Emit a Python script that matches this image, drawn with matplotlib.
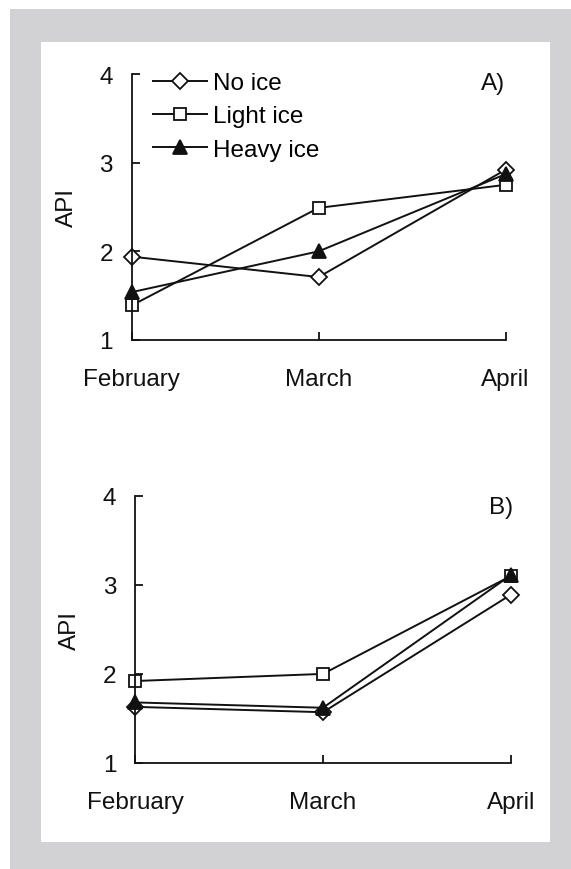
import matplotlib
matplotlib.use('Agg')
import matplotlib.pyplot as plt
from matplotlib.patches import Rectangle

# Donnees (API moyen par mois)
months = ['February', 'March', 'April']
series_names = ['No ice', 'Light ice', 'Heavy ice']

api_a_no_ice = [1.94, 1.71, 2.92]
api_a_light_ice = [1.39, 2.49, 2.75]
api_a_heavy_ice = [1.54, 2.00, 2.87]

api_b_no_ice = [1.63, 1.57, 2.89]
api_b_light_ice = [1.92, 2.00, 3.10]
api_b_heavy_ice = [1.68, 1.62, 3.11]

y_ticks = [1, 2, 3, 4]

plt.rcParams['font.family'] = ['Liberation Sans', 'DejaVu Sans']
FS = 17.5
INK = '#111111'

fig = plt.figure(figsize=(5.71, 8.70), dpi=100, facecolor='white')

# fond gris du scan + cadre blanc
W, H = 571.0, 870.0
fig.patches.append(Rectangle((10 / W, 0), 1 - 10 / W, 1 - 10 / H,
                             transform=fig.transFigure, facecolor='#d2d2d4',
                             edgecolor='none', zorder=-10))
fig.patches.append(Rectangle((41 / W, 1 - 843 / H), (550 - 41) / W, (843 - 43) / H,
                             transform=fig.transFigure, facecolor='white',
                             edgecolor='none', zorder=-9))

styles = [
    dict(marker='D', markersize=7.8, markerfacecolor='white'),
    dict(marker='s', markersize=9.2, markerfacecolor='white'),
    dict(marker='^', markersize=9.4, markerfacecolor=INK),
]


def draw_panel(ax, data, tag, tag_xy, with_legend):
    for name, values, st in zip(series_names, data, styles):
        ax.plot(months, values, color=INK, linewidth=1.4, markeredgecolor=INK,
                markeredgewidth=1.3, clip_on=False, label=name, **st)
    ax.set_xlim(0, 2)
    ax.set_ylim(1, 4)
    ax.set_yticks(y_ticks)
    ax.patch.set_visible(False)
    for side in ['top', 'right']:
        ax.spines[side].set_visible(False)
    for side in ['left', 'bottom']:
        ax.spines[side].set_linewidth(1.3)
        ax.spines[side].set_color(INK)
    ax.tick_params(axis='both', direction='in', length=5.5, width=1.3,
                   colors=INK, labelsize=FS)
    ax.tick_params(axis='x', pad=20)
    ax.tick_params(axis='y', pad=13.5)
    ax.set_ylabel('API', fontsize=FS, color=INK)
    ax.yaxis.set_label_coords(-0.144, 0.5)
    ax.text(tag_xy[0], tag_xy[1], tag, transform=ax.transAxes, ha='right',
            va='center', fontsize=FS, color=INK)
    if with_legend:
        ax.legend(loc='upper left', bbox_to_anchor=(0.0567, 1.007), frameon=False,
                  fontsize=FS, handlelength=2.22, handletextpad=0.25,
                  labelspacing=0.46, borderpad=0, borderaxespad=0)


ax_a = fig.add_axes([131.8 / W, 1 - 341 / H, 373.7 / W, 266 / H])
draw_panel(ax_a, [api_a_no_ice, api_a_light_ice, api_a_heavy_ice], 'A)', (1.0, 0.968), True)

ax_b = fig.add_axes([135 / W, 1 - 764 / H, 376 / W, 267.3 / H])
draw_panel(ax_b, [api_b_no_ice, api_b_light_ice, api_b_heavy_ice], 'B)', (1.006, 0.958), False)

fig.savefig('out.png', dpi=100, facecolor=fig.get_facecolor())
